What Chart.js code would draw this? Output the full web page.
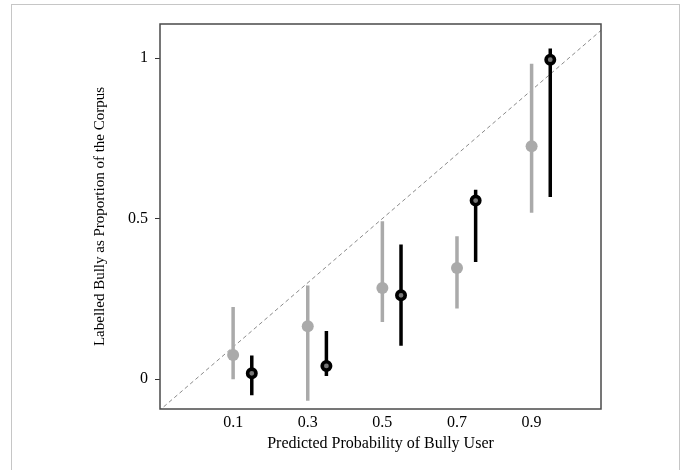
<!DOCTYPE html>
<html>

<head>
    <meta charset="utf-8">
    <title>Bully calibration</title>
    <script src="https://cdn.jsdelivr.net/npm/chart.js@4.4.0/dist/chart.umd.min.js"></script>
    <style>
        body { margin: 0; background: #fff; overflow: hidden; }
        #wrap { position: relative; width: 685px; height: 470px; }
        #frame { position: absolute; left: 11px; top: 4px; width: 667px; height: 500px; border: 1px solid #c6c6c6; }
        #chart { position: absolute; left: 0; top: 0; }
    </style>
</head>

<body>
    <div id="wrap">
        <div id="frame"></div>
        <canvas id="chart" width="685" height="470"></canvas>
    </div>
</body>

<script>
    // predicted probability bins (grey = first model, black = second model, shifted right)
    const xGray = [0.1, 0.3, 0.5, 0.7, 0.9];
    const xBlack = [0.15, 0.35, 0.55, 0.75, 0.95];

    const grayMid = [0.075, 0.165, 0.284, 0.346, 0.725];
    const grayLo = [0.0, -0.067, 0.178, 0.220, 0.518];
    const grayHi = [0.225, 0.292, 0.492, 0.445, 0.982];

    const blackMid = [0.018, 0.041, 0.261, 0.556, 0.995];
    const blackLo = [-0.050, 0.010, 0.104, 0.365, 0.567];
    const blackHi = [0.074, 0.150, 0.419, 0.590, 1.030];

    const xTicks = [0.1, 0.3, 0.5, 0.7, 0.9];
    const xTickLabels = ['0.1', '0.3', '0.5', '0.7', '0.9'];
    const yTicks = [0, 0.5, 1];
    const yTickLabels = ['0', '0.5', '1'];

    const diagonal = [-0.2, 1.2];

    const FONT = '"Liberation Serif", "Times New Roman", serif';

    // vertical segments separated by gaps
    const bars = (xs, lo, hi) => {
        const out = [];
        xs.forEach((x, i) => {
            out.push({ x: x, y: lo[i] });
            out.push({ x: x, y: hi[i] });
            out.push({ x: x, y: null });
        });
        return out;
    };
    const pts = (xs, ys) => xs.map((x, i) => ({ x: x, y: ys[i] }));

    const plotBox = {
        id: 'plotBox',
        afterDatasetsDraw(chart) {
            const a = chart.chartArea;
            const ctx = chart.ctx;
            ctx.save();
            ctx.strokeStyle = '#4a4a4a';
            ctx.lineWidth = 1.5;
            ctx.strokeRect(a.left, a.top, a.right - a.left, a.bottom - a.top);
            ctx.restore();
        }
    };

    const ctx = document.getElementById('chart').getContext('2d');
    const chart = new Chart(ctx, {
        type: 'scatter',
        plugins: [plotBox],
        data: {
            datasets: [{
                label: 'diagonal',
                type: 'line',
                data: diagonal.map(v => ({ x: v, y: v })),
                borderColor: '#8a8a8a',
                borderWidth: 1,
                borderDash: [4, 3],
                pointRadius: 0,
                order: 5
            }, {
                label: 'grey interval',
                type: 'line',
                data: bars(xGray, grayLo, grayHi),
                borderColor: '#aaaaaa',
                borderWidth: 3.5,
                pointRadius: 0,
                spanGaps: false,
                order: 4
            }, {
                label: 'black interval',
                type: 'line',
                data: bars(xBlack, blackLo, blackHi),
                borderColor: '#000000',
                borderWidth: 3.5,
                pointRadius: 0,
                spanGaps: false,
                order: 3
            }, {
                label: 'grey',
                data: pts(xGray, grayMid),
                pointRadius: 6,
                backgroundColor: '#aaaaaa',
                borderWidth: 0,
                order: 2
            }, {
                label: 'black',
                data: pts(xBlack, blackMid),
                pointRadius: 4.2,
                backgroundColor: '#777777',
                borderColor: '#000000',
                borderWidth: 3.6,
                order: 1
            }]
        },
        options: {
            responsive: false,
            animation: false,
            layout: { padding: { left: 12, top: 24, right: 84, bottom: 0 } },
            plugins: {
                legend: { display: false },
                tooltip: { enabled: false }
            },
            scales: {
                x: {
                    type: 'linear',
                    min: -0.096,
                    max: 1.086,
                    afterBuildTicks: s => { s.ticks = xTicks.map(v => ({ value: v })); },
                    afterFit: s => { s.height = 61; },
                    border: { display: false },
                    grid: { display: false, drawTicks: false },
                    ticks: {
                        padding: 4,
                        color: '#000',
                        font: { family: FONT, size: 16 },
                        callback: (v) => xTickLabels[xTicks.indexOf(v)]
                    },
                    title: {
                        display: true,
                        text: 'Predicted Probability of Bully User',
                        color: '#000',
                        font: { family: FONT, size: 16 },
                        padding: { top: 0, bottom: 17 }
                    }
                },
                y: {
                    type: 'linear',
                    min: -0.093,
                    max: 1.106,
                    afterBuildTicks: s => { s.ticks = yTicks.map(v => ({ value: v })); },
                    afterFit: s => { s.width = 148; },
                    border: { display: false },
                    grid: { drawOnChartArea: false, drawTicks: true, tickLength: 5, color: '#333' },
                    ticks: {
                        padding: 7,
                        color: '#000',
                        font: { family: FONT, size: 16 },
                        callback: (v) => yTickLabels[yTicks.indexOf(v)]
                    },
                    title: {
                        display: true,
                        text: 'Labelled Bully as Proportion of the Corpus',
                        color: '#000',
                        font: { family: FONT, size: 15 },
                        padding: { top: 79, bottom: 0 }
                    }
                }
            }
        }
    });
</script>

</html>
